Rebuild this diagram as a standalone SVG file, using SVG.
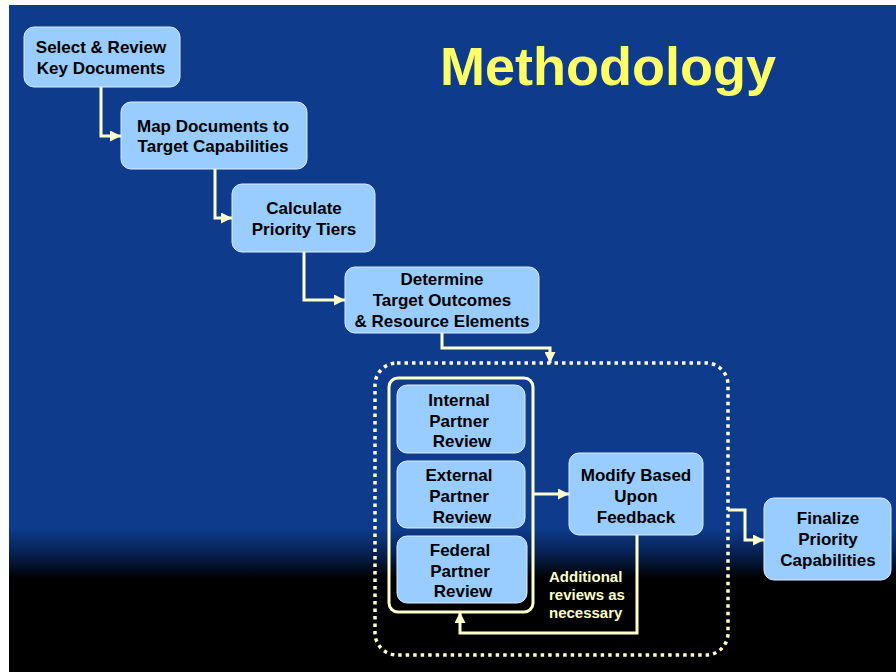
<svg xmlns="http://www.w3.org/2000/svg" width="896" height="672" viewBox="0 0 896 672">
<defs>
<linearGradient id="bg" gradientUnits="userSpaceOnUse" x1="0" y1="5" x2="0" y2="672">
<stop offset="0" stop-color="#0E3B8C"/>
<stop offset="0.785" stop-color="#0E3B8C"/>
<stop offset="0.822" stop-color="#072152"/>
<stop offset="0.86" stop-color="#000000"/>
<stop offset="1" stop-color="#000000"/>
</linearGradient>
<marker id="ah" viewBox="0 0 10 10" refX="10" refY="5" markerWidth="11" markerHeight="11" markerUnits="userSpaceOnUse" orient="auto">
<path d="M0,0 L10,5 L0,10 z" fill="#FFFFCC"/>
</marker>
<style>
.node{fill:#99CCFF;stroke:#DDEEFF;stroke-width:1}
.t{font-family:"Liberation Sans",Arial,sans-serif;font-weight:bold;font-size:17px;fill:#000;text-anchor:middle}
.c{fill:none;stroke:#FFFFCC;stroke-width:3;marker-end:url(#ah)}
.note{font-family:"Liberation Sans",Arial,sans-serif;font-weight:bold;font-size:15px;fill:#FFFFCC}
</style>
</defs>
<rect x="0" y="0" width="896" height="672" fill="#FFFFFF"/>
<rect x="9" y="5" width="887" height="667" fill="url(#bg)"/>
<text x="440" y="85" style="font-family:'Liberation Sans',Arial,sans-serif;font-weight:bold;font-size:54px;fill:#FFFF66">Methodology</text>

<g id="group-dotted">
<rect x="375" y="363" width="353" height="292" rx="22" fill="none" stroke="#FFFFCC" stroke-width="3.5" stroke-dasharray="3.5 4"/>
</g>
<g id="group-reviews">
<rect x="389" y="378" width="144" height="234" rx="9" fill="none" stroke="#FFFFCC" stroke-width="3"/>
</g>

<g id="connectors">
<path class="c" d="M101,87 V136 H121"/>
<path class="c" d="M215,169 V218 H232"/>
<path class="c" d="M304,252 V300 H345"/>
<path class="c" d="M442,333 V348 H550 V363"/>
<path class="c" d="M533,494 H569"/>
<path class="c" d="M637,535 V633 H460 V612"/>
<path class="c" d="M728,510 H745 V540 H764"/>
</g>

<g id="n1">
<rect class="node" x="24" y="27" width="156" height="60" rx="10"/>
<text class="t"><tspan x="101" y="53">Select &amp; Review</tspan><tspan x="101" y="74">Key Documents</tspan></text>
</g>
<g id="n2">
<rect class="node" x="121" y="102" width="186" height="67" rx="10"/>
<text class="t"><tspan x="213" y="132">Map Documents to</tspan><tspan x="213" y="152">Target Capabilities</tspan></text>
</g>
<g id="n3">
<rect class="node" x="232" y="184" width="143" height="68" rx="10"/>
<text class="t"><tspan x="304" y="214">Calculate</tspan><tspan x="304" y="235">Priority Tiers</tspan></text>
</g>
<g id="n4">
<rect class="node" x="345" y="267" width="194" height="66" rx="10"/>
<text class="t"><tspan x="442" y="285">Determine</tspan><tspan x="442" y="306">Target Outcomes</tspan><tspan x="442" y="327">&amp; Resource Elements</tspan></text>
</g>
<g id="n5">
<rect class="node" x="397" y="385" width="128" height="68" rx="10"/>
<text class="t"><tspan x="459" y="406">Internal</tspan><tspan x="459" y="427">Partner</tspan><tspan x="462" y="447">Review</tspan></text>
</g>
<g id="n6">
<rect class="node" x="397" y="461" width="128" height="67" rx="10"/>
<text class="t"><tspan x="459" y="481">External</tspan><tspan x="459" y="502">Partner</tspan><tspan x="462" y="523">Review</tspan></text>
</g>
<g id="n7">
<rect class="node" x="397" y="536" width="130" height="67" rx="10"/>
<text class="t"><tspan x="460" y="556">Federal</tspan><tspan x="460" y="577">Partner</tspan><tspan x="463" y="597">Review</tspan></text>
</g>
<g id="n8">
<rect class="node" x="569" y="453" width="134" height="82" rx="10"/>
<text class="t"><tspan x="636" y="481">Modify Based</tspan><tspan x="636" y="502">Upon</tspan><tspan x="636" y="523">Feedback</tspan></text>
</g>
<g id="n9">
<rect class="node" x="764" y="498" width="127" height="82" rx="10"/>
<text class="t"><tspan x="828" y="524">Finalize</tspan><tspan x="828" y="545">Priority</tspan><tspan x="828" y="566">Capabilities</tspan></text>
</g>
<g id="note">
<text class="note"><tspan x="549" y="582">Additional</tspan><tspan x="549" y="600">reviews as</tspan><tspan x="549" y="618">necessary</tspan></text>
</g>
</svg>
